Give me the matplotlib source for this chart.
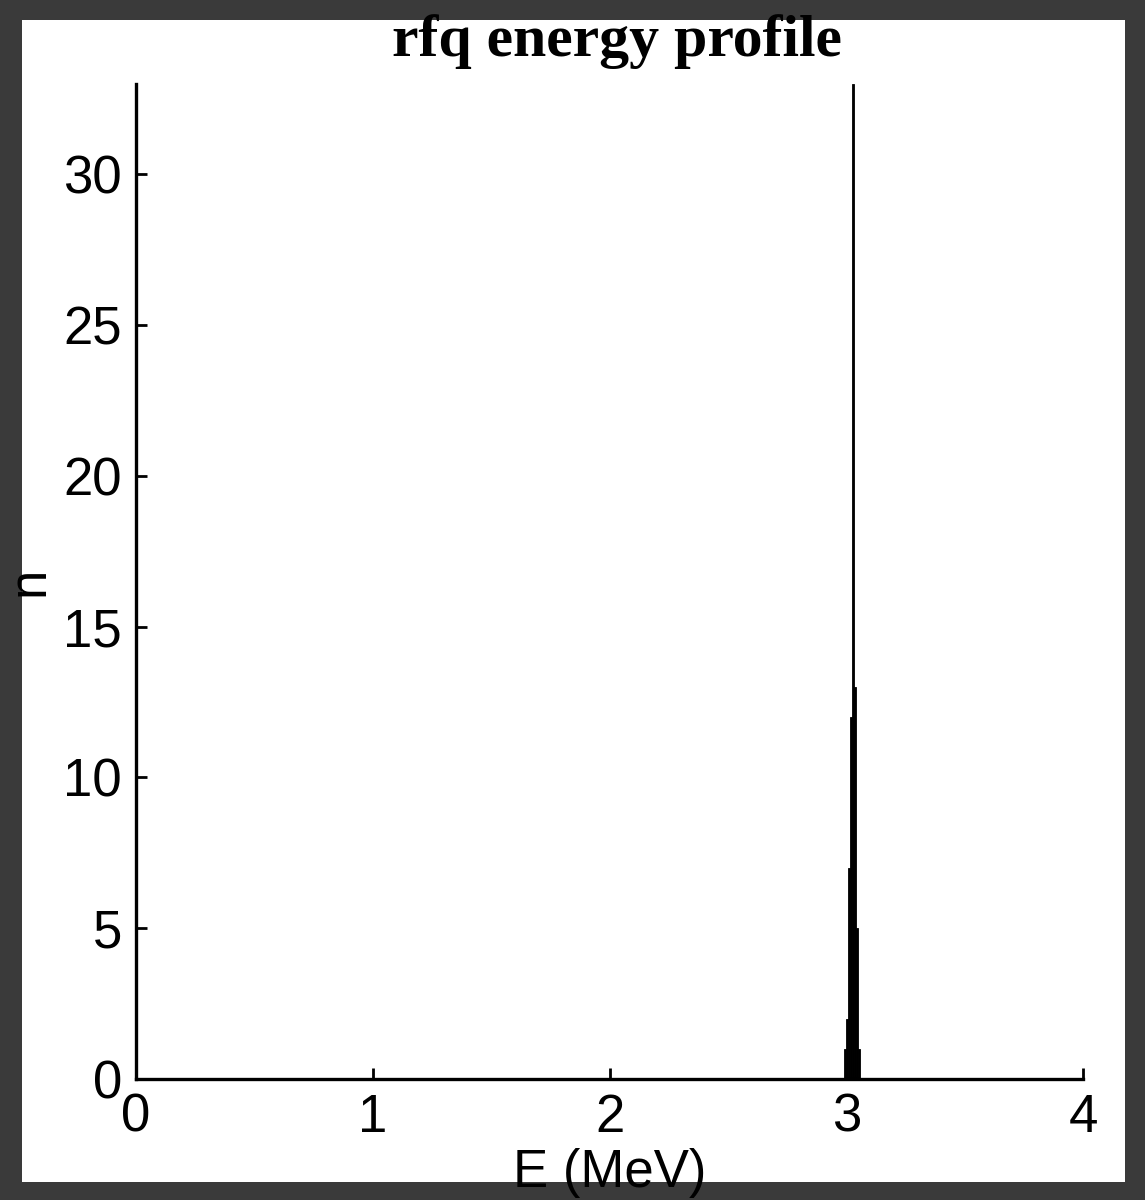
import matplotlib
matplotlib.use("Agg")
import matplotlib.pyplot as plt
from matplotlib.patches import Rectangle
import numpy as np

# histogram bins of the beam energy after the rfq (MeV) and particle counts
bin_centers = [2.996, 3.004, 3.012, 3.020, 3.028, 3.036, 3.044, 3.052]
counts = [1, 2, 7, 12, 33, 13, 5, 1]
bin_width = 0.008

x_ticks = [0, 1, 2, 3, 4]
y_ticks = [0, 5, 10, 15, 20, 25, 30]


def make_frame(fig):
    # dark photo border round a white page
    fig.patch.set_facecolor("#3a3a3a")
    W, H = 1145.0, 1200.0
    page = Rectangle((22 / W, 18 / H), (1125 - 22) / W, (1180 - 18) / H,
                     transform=fig.transFigure, facecolor="white",
                     edgecolor="none", zorder=-5)
    fig.patches.append(page)


def plot_profile():
    fig = plt.figure(figsize=(11.45, 12), dpi=100)
    make_frame(fig)
    ax = fig.add_axes([136 / 1145, 121 / 1200, (1083 - 136) / 1145, (1116 - 121) / 1200])
    ax.set_zorder(2)
    ax.set_facecolor("none")
    ax.bar(bin_centers, counts, width=bin_width, color="black",
           edgecolor="black", linewidth=0.6)
    ax.set_xlim(0, 4)
    ax.set_ylim(0, 33)
    ax.set_xticks(x_ticks)
    ax.set_yticks(y_ticks)
    for s in ["top", "right"]:
        ax.spines[s].set_visible(False)
    for s in ["left", "bottom"]:
        ax.spines[s].set_linewidth(2.4)
    ax.tick_params(direction="in", length=8, width=2, labelsize=38, pad=10,
                   labelfontfamily="Liberation Sans")
    ax.set_xlabel("E (MeV)", fontsize=38, family="Liberation Sans", labelpad=4)
    ax.set_ylabel("n", fontsize=38, family="Liberation Sans", labelpad=6)
    ax.set_title("rfq energy profile", fontsize=43, fontweight="bold",
                 family="Liberation Serif", pad=20, x=0.508)
    fig.savefig("out.png", dpi=100, facecolor=fig.get_facecolor())
    plt.close()


if __name__ == "__main__":
    plot_profile()
